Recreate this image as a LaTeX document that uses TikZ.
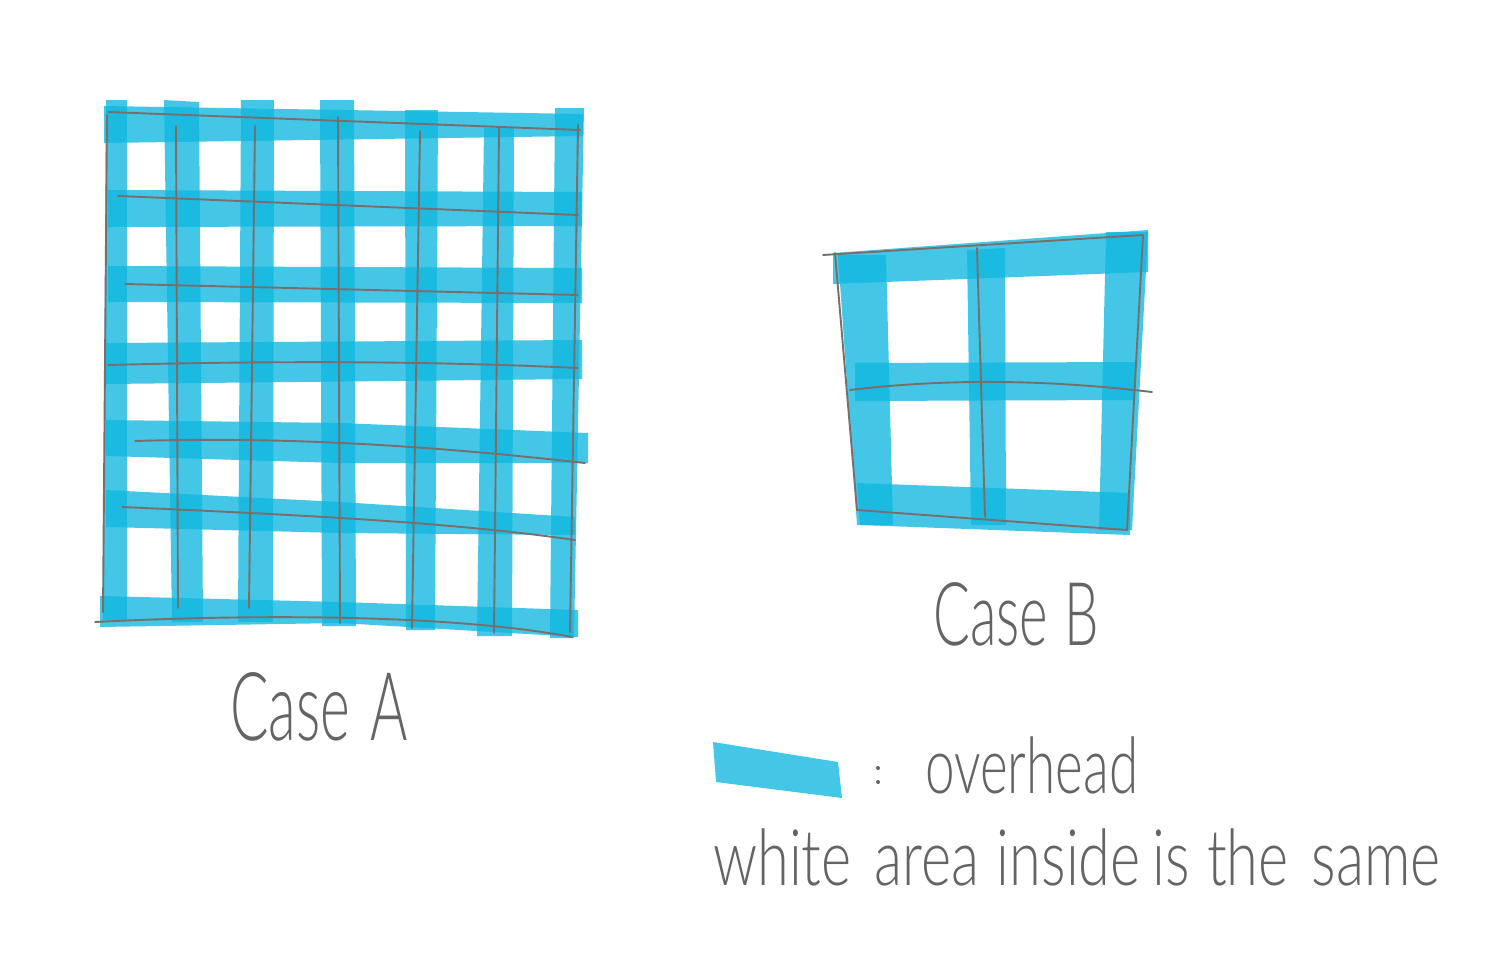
\documentclass[tikz,border=0pt]{standalone}
\usepackage{fontspec}
\newfontfamily\hand{Lato Light}
\definecolor{marker}{HTML}{10B8E0}
\definecolor{pencil}{RGB}{122,110,108}
\definecolor{ink}{RGB}{100,100,100}
\tikzset{
  strip/.style={fill=marker, fill opacity=0.78, draw=none},
  pline/.style={draw=pencil, line width=1.9pt, line cap=round},
  hw/.style={text=ink, inner sep=0pt}
}
\begin{document}
\begin{tikzpicture}[x=1pt,y=-1pt]
\useasboundingbox (0,0) rectangle (1506,972);
\fill[white] (0,0) rectangle (1506,972);

% ---------- Case A: marker strips ----------
% vertical
\fill[strip] (106,100) -- (127,100) -- (127,620) -- (103,620) -- cycle;
\fill[strip] (164,100) -- (199,102) -- (203,622) -- (172,622) -- cycle;
\fill[strip] (241,100) -- (274,100) -- (273,622) -- (238,622) -- cycle;
\fill[strip] (320,100) -- (354,100) -- (356,626) -- (322,626) -- cycle;
\fill[strip] (405,110) -- (438,110) -- (435,630) -- (406,630) -- cycle;
\fill[strip] (484,128) -- (514,128) -- (512,636) -- (477,636) -- cycle;
\fill[strip] (555,108) -- (584,108) -- (574,638) -- (550,638) -- cycle;
% horizontal
\fill[strip] (104,106) -- (583,114) -- (583,136) -- (104,143) -- cycle;
\fill[strip] (108,190) -- (582,192) -- (582,226) -- (108,227) -- cycle;
\fill[strip] (108,266) -- (582,268) -- (582,303) -- (108,302) -- cycle;
\fill[strip] (106,343) -- (582,340) -- (582,379) -- (106,384) -- cycle;
\fill[strip] (106,420) -- (340,423) -- (588,433) -- (588,463) -- (340,463) -- (106,456) -- cycle;
\fill[strip] (106,490) -- (340,502) -- (575,517) -- (575,535) -- (340,533) -- (106,527) -- cycle;
\fill[strip] (100,596) -- (340,602) -- (578,610) -- (578,637) -- (340,623) -- (100,627) -- cycle;

% ---------- Case A: pencil grid ----------
\draw[pline] (108,112) -- (580,130);
\draw[pline] (118,196) -- (578,215);
\draw[pline] (125,284) -- (578,295);
\draw[pline] (108,365) .. controls (300,360) and (450,362) .. (578,368);
\draw[pline] (135,441) .. controls (300,436) and (450,448) .. (585,463);
\draw[pline] (122,507) .. controls (300,515) and (450,522) .. (575,540);
\draw[pline] (95,622) .. controls (250,614) and (450,614) .. (572,637);
\draw[pline] (107,115) -- (103,612);
\draw[pline] (176,126) -- (178,608);
\draw[pline] (255,126) -- (249,608);
\draw[pline] (338,117) -- (340,623);
\draw[pline] (420,131) -- (412,628);
\draw[pline] (499,128) -- (494,633);
\draw[pline] (578,125) -- (570,632);

% ---------- Case B: marker strips ----------
\fill[strip] (833,253) -- (1148,230) -- (1148,272) -- (833,284) -- cycle;
\fill[strip] (838,255) -- (886,255) -- (893,525) -- (857,525) -- cycle;
\fill[strip] (967,250) -- (1005,248) -- (1006,525) -- (971,525) -- cycle;
\fill[strip] (1106,232) -- (1148,232) -- (1132,530) -- (1099,530) -- cycle;
\fill[strip] (855,363) -- (1135,362) -- (1135,400) -- (855,401) -- cycle;
\fill[strip] (857,483) -- (1130,493) -- (1130,535) -- (860,525) -- cycle;

% ---------- Case B: pencil grid ----------
\draw[pline] (823,255) -- (1143,235);
\draw[pline] (835,253) -- (857,510);
\draw[pline] (977,248) -- (985,517);
\draw[pline] (1143,235) -- (1127,530);
\draw[pline] (850,390) .. controls (950,378) and (1050,380) .. (1152,392);
\draw[pline] (857,510) -- (1127,530);

% ---------- legend ----------
\fill[strip] (713,742) -- (838,762) -- (842,798) -- (716,782) -- cycle;
\fill[ink] (878,768) circle (2);
\fill[ink] (878,782) circle (2);

% ---------- texts ----------
\node[hw, anchor=base west, font=\hand\fontsize{95}{95}\selectfont, xscale=0.6] (caseA) at (230,740) {Case\hspace{0.35em}A};
\node[hw, anchor=base west, font=\hand\fontsize{88}{88}\selectfont, xscale=0.62] (caseB) at (933,645) {Case\hspace{0.3em}B};
\node[hw, anchor=base west, font=\hand\fontsize{78}{78}\selectfont, xscale=0.68] (over) at (925,793) {overhead};
\node[hw, anchor=base west, font=\hand\fontsize{78}{78}\selectfont, xscale=0.74] (white) at (713,885) {white\hspace{0.4em}area\hspace{0.3em}inside\hspace{0.2em}is\hspace{0.3em}the\hspace{0.4em}same};
\end{tikzpicture}
\end{document}
